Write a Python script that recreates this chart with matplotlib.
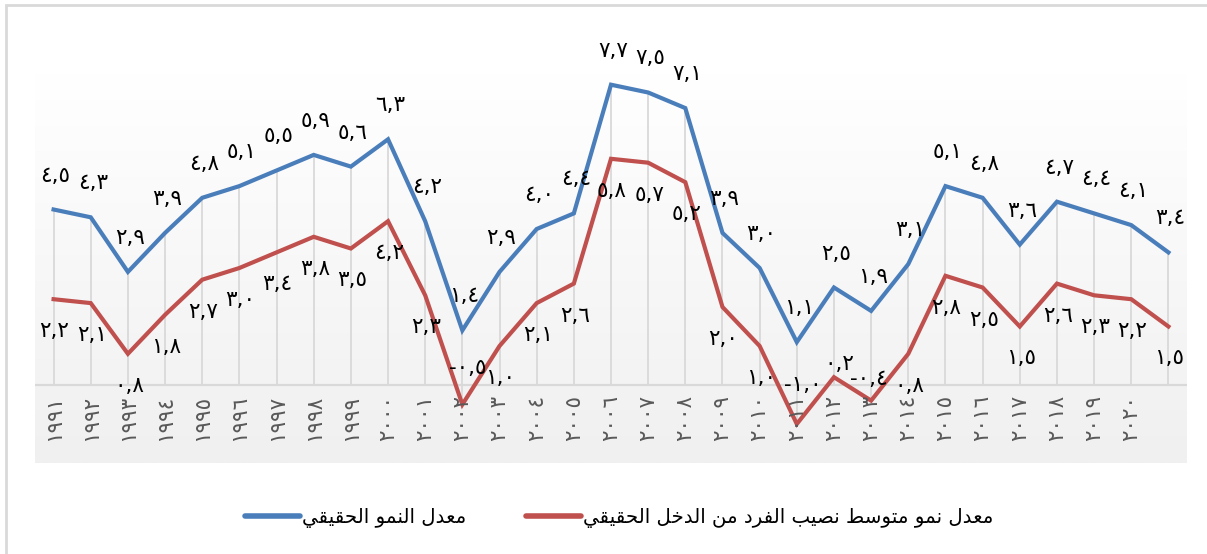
import numpy as np
import matplotlib.pyplot as plt
from matplotlib.patches import Rectangle
from matplotlib.lines import Line2D

# Données
years = ["1991", "1992", "1993", "1994", "1995", "1996", "1997", "1998", "1999", "2000",
         "2001", "2002", "2003", "2004", "2005", "2006", "2007", "2008", "2009", "2010",
         "2011", "2012", "2013", "2014", "2015", "2016", "2017", "2018", "2019", "2020", ""]
real_growth = [4.5, 4.3, 2.9, 3.9, 4.8, 5.1, 5.5, 5.9, 5.6, 6.3,
               4.2, 1.4, 2.9, 4.0, 4.4, 7.7, 7.5, 7.1, 3.9, 3.0,
               1.1, 2.5, 1.9, 3.1, 5.1, 4.8, 3.6, 4.7, 4.4, 4.1, 3.4]
per_capita = [2.2, 2.1, 0.8, 1.8, 2.7, 3.0, 3.4, 3.8, 3.5, 4.2,
              2.3, -0.5, 1.0, 2.1, 2.6, 5.8, 5.7, 5.2, 2.0, 1.0,
              -1.0, 0.2, -0.4, 0.8, 2.8, 2.5, 1.5, 2.6, 2.3, 2.2, 1.5]
name_real = "معدل النمو الحقيقي"
name_capita = "معدل نمو متوسط نصيب الفرد من الدخل الحقيقي"

BLUE = "#4a7ebb"
RED = "#c0504d"

# mise en forme arabe (formes de présentation + ordre visuel)
FORMS = {
    "ا": ("\uFE8D", "\uFE8E", None, None),
    "ب": ("\uFE8F", "\uFE90", "\uFE91", "\uFE92"),
    "ت": ("\uFE95", "\uFE96", "\uFE97", "\uFE98"),
    "ح": ("\uFEA1", "\uFEA2", "\uFEA3", "\uFEA4"),
    "خ": ("\uFEA5", "\uFEA6", "\uFEA7", "\uFEA8"),
    "د": ("\uFEA9", "\uFEAA", None, None),
    "ر": ("\uFEAD", "\uFEAE", None, None),
    "س": ("\uFEB1", "\uFEB2", "\uFEB3", "\uFEB4"),
    "ص": ("\uFEB9", "\uFEBA", "\uFEBB", "\uFEBC"),
    "ط": ("\uFEC1", "\uFEC2", "\uFEC3", "\uFEC4"),
    "ع": ("\uFEC9", "\uFECA", "\uFECB", "\uFECC"),
    "ف": ("\uFED1", "\uFED2", "\uFED3", "\uFED4"),
    "ق": ("\uFED5", "\uFED6", "\uFED7", "\uFED8"),
    "ل": ("\uFEDD", "\uFEDE", "\uFEDF", "\uFEE0"),
    "م": ("\uFEE1", "\uFEE2", "\uFEE3", "\uFEE4"),
    "ن": ("\uFEE5", "\uFEE6", "\uFEE7", "\uFEE8"),
    "و": ("\uFEED", "\uFEEE", None, None),
    "ي": ("\uFEF1", "\uFEF2", "\uFEF3", "\uFEF4"),
}


def shape(text):
    out = []
    for i, ch in enumerate(text):
        if ch not in FORMS:
            out.append(ch)
            continue
        prev = text[i - 1] if i > 0 else ""
        nxt = text[i + 1] if i + 1 < len(text) else ""
        joins_prev = prev in FORMS and FORMS[prev][2] is not None
        joins_next = nxt in FORMS and FORMS[ch][2] is not None
        iso, fin, ini, med = FORMS[ch]
        if joins_prev and joins_next:
            out.append(med)
        elif joins_prev:
            out.append(fin)
        elif joins_next:
            out.append(ini)
        else:
            out.append(iso)
    return "".join(out)[::-1]


AR_DIGITS = str.maketrans("0123456789", "٠١٢٣٤٥٦٧٨٩")


def ar_num(v):
    return f"{v:.1f}".replace(".", ",").translate(AR_DIGITS)


fig = plt.figure(figsize=(12.07, 5.54), dpi=100)
W, H = 1207, 554

# cadre du graphique
fig.patches.append(Rectangle((6 / W, 1 - 560 / H), 1210 / W, 555 / H, transform=fig.transFigure,
                             fill=False, edgecolor="#d9d9d9", linewidth=2))

ax = fig.add_axes([35 / W, 1 - 463 / H, 1152 / W, 390 / H])
x = np.arange(len(years))
ax.set_xlim(-0.5, len(years) - 0.5)
ax.set_ylim(-2, 8)

# fond en dégradé
grad = np.linspace(0, 1, 256).reshape(-1, 1)
ax.imshow(grad, extent=(-0.5, len(years) - 0.5, -2, 8), aspect="auto",
          cmap=plt.matplotlib.colors.LinearSegmentedColormap.from_list("g", ["#ffffff", "#f0f0f0"]),
          zorder=0, origin="upper")

# lignes de projection
lo = np.minimum(0, np.minimum(real_growth, per_capita))
hi = np.maximum(real_growth, per_capita)
ax.vlines(x, lo, hi, color="#d9d9d9", linewidth=1.3, zorder=1)
ax.axhline(0, color="#d9d9d9", linewidth=1.6, zorder=1)

ax.plot(x, real_growth, color=BLUE, linewidth=3, solid_joinstyle="miter", zorder=3)
ax.plot(x, per_capita, color=RED, linewidth=3, solid_joinstyle="miter", zorder=3)

# étiquettes
for xi, v in zip(x, real_growth):
    ax.annotate(ar_num(v), (xi, v), xytext=(2, 34), textcoords="offset pixels",
                ha="center", va="center", fontsize=15.5, color="black", zorder=4)
red_up = {11: 37, 20: 39, 21: 13, 22: 22}
red_dx = {11: 5, 20: 6, 21: 5, 22: -2}
for xi, v in zip(x, per_capita):
    dy = red_up.get(xi, -32)
    dx = red_dx.get(xi, 1)
    ax.annotate(ar_num(v), (xi, v), xytext=(dx, dy), textcoords="offset pixels",
                ha="center", va="center", fontsize=15.5, color="black", zorder=4)

# axe des catégories
for xi, lab in zip(x, years):
    ax.text(xi, -0.25, lab.translate(AR_DIGITS), rotation=90, ha="center", va="top",
            fontsize=15.5, color="#595959", zorder=4)
ax.set_xticks([])
ax.set_yticks([])
for s in ax.spines.values():
    s.set_visible(False)

handles = [Line2D([], [], color=BLUE, linewidth=4, solid_capstyle="round"),
           Line2D([], [], color=RED, linewidth=4, solid_capstyle="round")]
fig.legend(handles, [shape(name_real), shape(name_capita)], loc="center",
           bbox_to_anchor=(0.513, 1 - 518 / H), ncol=2, frameon=False, fontsize=14.2,
           handlelength=2.8, handletextpad=0.1, columnspacing=3.0)

fig.savefig("out.png", dpi=100)
